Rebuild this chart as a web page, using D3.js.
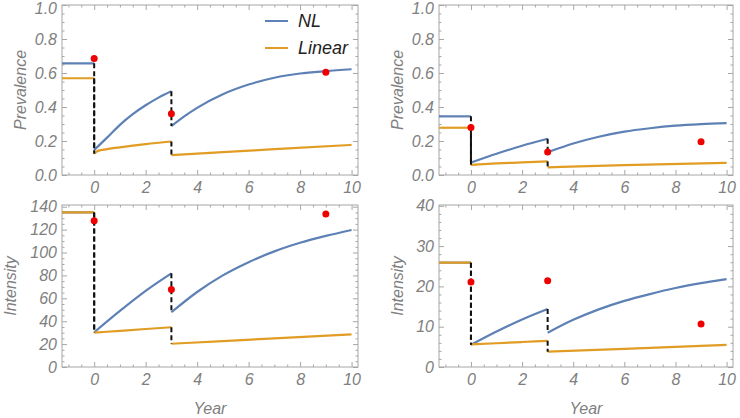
<!DOCTYPE html>
<html><head><meta charset="utf-8">
<script src="https://cdn.jsdelivr.net/npm/d3@7"></script>
<style>
body{margin:0;background:#fff;}
svg{display:block;}
text{font-family:"Liberation Sans",Arial,sans-serif;font-style:italic;}
</style></head>
<body><svg id="c" width="740" height="418"></svg>
<script>
// ---- Data ----
// Top-left: prevalence
const prevA_NL = [
  [[-1.25,0.657],[0,0.657]],
  [[0,0.147],[0.5,0.22],[1,0.295],[1.5,0.358],[2,0.41],[2.5,0.455],[3,0.492]],
  [[3,0.288],[3.5,0.345],[4,0.395],[5,0.475],[6,0.532],[7,0.572],[8,0.597],[9,0.611],[10,0.622]]
];
const prevA_Lin = [
  [[-1.25,0.569],[0,0.569]],
  [[0,0.125],[0.15,0.142],[0.5,0.152],[1,0.163],[2,0.182],[3,0.197]],
  [[3,0.117],[5,0.135],[7,0.152],[10,0.177]]
];
const prevA_obs = [[0,0.685],[3,0.36],[9,0.605]];

// Top-right: prevalence
const prevB_NL = [
  [[-1.25,0.345],[0,0.345]],
  [[0,0.073],[1,0.125],[2,0.172],[3,0.213]],
  [[3,0.133],[3.5,0.16],[4,0.185],[5,0.225],[6,0.255],[7,0.275],[8,0.29],[9,0.299],[10,0.305]]
];
const prevB_Lin = [
  [[-1.25,0.278],[0,0.278]],
  [[0,0.06],[1,0.068],[2,0.074],[3,0.08]],
  [[3,0.045],[6,0.058],[10,0.071]]
];
const prevB_obs = [[0,0.28],[3,0.135],[9,0.196]];

// Bottom-left: intensity
const intA_NL = [
  [[-1.25,135],[0,135]],
  [[0,30.3],[1,49],[2,66.5],[3,81.8]],
  [[3,47.8],[4,65.5],[5,80],[6,91.5],[7,101],[8,108.5],[9,114.5],[10,119.7]]
];
const intA_Lin = [
  [[-1.25,135],[0,135]],
  [[0,30],[1,31.6],[2,33.2],[3,34.7]],
  [[3,20.3],[5,22.6],[7,25],[10,28.5]]
];
const intA_obs = [[0,127.8],[3,67.8],[9,133.6]];

// Bottom-right: intensity
const intB_NL = [
  [[-1.25,25.9],[0,25.9]],
  [[0,5.5],[1,8.8],[2,11.8],[3,14.4]],
  [[3,8.5],[4,11.7],[5,14.3],[6,16.4],[7,18.1],[8,19.6],[9,20.8],[10,21.8]]
];
const intB_Lin = [
  [[-1.25,25.9],[0,25.9]],
  [[0,5.6],[1,5.9],[2,6.2],[3,6.5]],
  [[3,3.8],[6,4.5],[10,5.5]]
];
const intB_obs = [[0,21.1],[3,21.4],[9,10.7]];

const xTicks = [0,2,4,6,8,10];
const prevTicks = [0,0.2,0.4,0.6,0.8,1.0];
const intATicks = [0,20,40,60,80,100,120,140];
const intBTicks = [0,10,20,30,40];
const seriesNames = ["NL","Linear"];

// ---- Drawing ----
const svg = d3.select("#c");
const BLUE = "#5E81B5", ORANGE = "#E19C24", RED = "#F00000";
const FRAME = "#a6a6a6", LABEL = "#808080";

function panel(opt){
  const x = d3.scaleLinear().domain([-1.25,10.25]).range([opt.x0,opt.x1]);
  const y = d3.scaleLinear().domain(opt.yDom).range([opt.y1,opt.y0]);
  const g = svg.append("g");
  const xMinor = d3.range(-1,10.01,0.5).filter(v=>!xTicks.includes(v));
  const yMinor = d3.range(opt.yDom[0],opt.yDom[1]+1e-9,opt.yMinorStep)
     .filter(v=>!opt.yTicks.some(t=>Math.abs(t-v)<1e-9));
  const fmt = opt.fmt;
  function styleAxis(sel){
    sel.select(".domain").remove();
    sel.selectAll("line").attr("stroke",FRAME).attr("stroke-width",1);
    sel.selectAll("text").attr("fill",LABEL).style("font-size","16px").style("font-family",'"Liberation Sans",Arial,sans-serif').style("font-style","italic");
  }
  // bottom
  g.append("g").attr("transform",`translate(0,${opt.y1})`)
    .call(d3.axisBottom(x).tickValues(xTicks).tickSize(-5).tickPadding(7).tickFormat(d3.format("d"))).call(styleAxis);
  g.append("g").attr("transform",`translate(0,${opt.y1})`)
    .call(d3.axisBottom(x).tickValues(xMinor).tickSize(-2.5).tickFormat("")).call(styleAxis);
  // top
  g.append("g").attr("transform",`translate(0,${opt.y0})`)
    .call(d3.axisTop(x).tickValues(xTicks).tickSize(-5).tickFormat("")).call(styleAxis);
  g.append("g").attr("transform",`translate(0,${opt.y0})`)
    .call(d3.axisTop(x).tickValues(xMinor).tickSize(-2.5).tickFormat("")).call(styleAxis);
  // left
  const yl = g.append("g").attr("transform",`translate(${opt.x0},0)`)
    .call(d3.axisLeft(y).tickValues(opt.yTicks).tickSize(-5).tickPadding(5).tickFormat(fmt)).call(styleAxis);
  // keep the top label inside the picture
  yl.selectAll(".tick text").filter(d=>y(d)<8).attr("dy","0.55em");
  g.append("g").attr("transform",`translate(${opt.x0},0)`)
    .call(d3.axisLeft(y).tickValues(yMinor).tickSize(-2.5).tickFormat("")).call(styleAxis);
  // right
  g.append("g").attr("transform",`translate(${opt.x1},0)`)
    .call(d3.axisRight(y).tickValues(opt.yTicks).tickSize(-5).tickFormat("")).call(styleAxis);
  g.append("g").attr("transform",`translate(${opt.x1},0)`)
    .call(d3.axisRight(y).tickValues(yMinor).tickSize(-2.5).tickFormat("")).call(styleAxis);
  // frame
  g.append("rect").attr("x",opt.x0).attr("y",opt.y0).attr("width",opt.x1-opt.x0).attr("height",opt.y1-opt.y0)
    .attr("fill","none").attr("stroke",FRAME).attr("stroke-width",1);

  const line = d3.line().x(d=>x(d[0])).y(d=>y(d[1])).curve(d3.curveMonotoneX);
  const plot = g.append("g");
  // series lines (blue under orange)
  [[opt.nl,BLUE],[opt.lin,ORANGE]].forEach(([segs,col])=>{
    segs.forEach(s=>{
      plot.append("path").attr("d",line(s)).attr("fill","none").attr("stroke",col).attr("stroke-width",2.2);
    });
  });
  // dashed drop lines at interventions
  [opt.nl,opt.lin].forEach(segs=>{
    for(let i=0;i<segs.length-1;i++){
      const a = segs[i][segs[i].length-1], b = segs[i+1][0];
      plot.append("line").attr("x1",x(a[0])).attr("x2",x(b[0])).attr("y1",y(a[1])).attr("y2",y(b[1]))
        .attr("stroke","#111").attr("stroke-width",2).attr("stroke-dasharray","5,3");
    }
  });
  // observed points
  plot.selectAll("circle.obs").data(opt.obs).enter().append("circle").attr("class","obs")
    .attr("cx",d=>x(d[0])).attr("cy",d=>y(d[1])).attr("r",3.5).attr("fill",RED);
  // y axis title
  g.append("text").attr("transform",`translate(${opt.titleX},${(opt.y0+opt.y1)/2}) rotate(-90)`)
    .attr("text-anchor","middle").attr("dy","0.35em").attr("fill",LABEL).style("font-size","16px").text(opt.title);
  if(opt.xTitle){
    g.append("text").attr("x",(opt.x0+opt.x1)/2).attr("y",414).attr("text-anchor","middle")
      .attr("fill",LABEL).style("font-size","16px").text(opt.xTitle);
  }
  return {x,y,g};
}

panel({x0:62,x1:358,y0:5,y1:175,yDom:[0,1],yTicks:prevTicks,yMinorStep:0.05,fmt:d3.format(".1f"),
  nl:prevA_NL,lin:prevA_Lin,obs:prevA_obs,title:"Prevalence",titleX:20});
panel({x0:439,x1:733,y0:5,y1:175,yDom:[0,1],yTicks:prevTicks,yMinorStep:0.05,fmt:d3.format(".1f"),
  nl:prevB_NL,lin:prevB_Lin,obs:prevB_obs,title:"Prevalence",titleX:397});
panel({x0:62,x1:358,y0:205,y1:367,yDom:[0,141.5],yTicks:intATicks,yMinorStep:5,fmt:d3.format("d"),
  nl:intA_NL,lin:intA_Lin,obs:intA_obs,title:"Intensity",titleX:10,xTitle:"Year"});
panel({x0:439,x1:733,y0:205,y1:367,yDom:[0,40.2],yTicks:intBTicks,yMinorStep:2,fmt:d3.format("d"),
  nl:intB_NL,lin:intB_Lin,obs:intB_obs,title:"Intensity",titleX:397,xTitle:"Year"});

// legend in top-left panel
const leg = svg.append("g");
[BLUE,ORANGE].forEach((c,i)=>{
  const yy = 21 + i*27;
  leg.append("line").attr("x1",265).attr("x2",288).attr("y1",yy).attr("y2",yy).attr("stroke",c).attr("stroke-width",2);
  leg.append("text").attr("x",298).attr("y",yy).attr("dy","0.35em").attr("fill","#222").style("font-size","18px").text(seriesNames[i]);
});
</script></body></html>
